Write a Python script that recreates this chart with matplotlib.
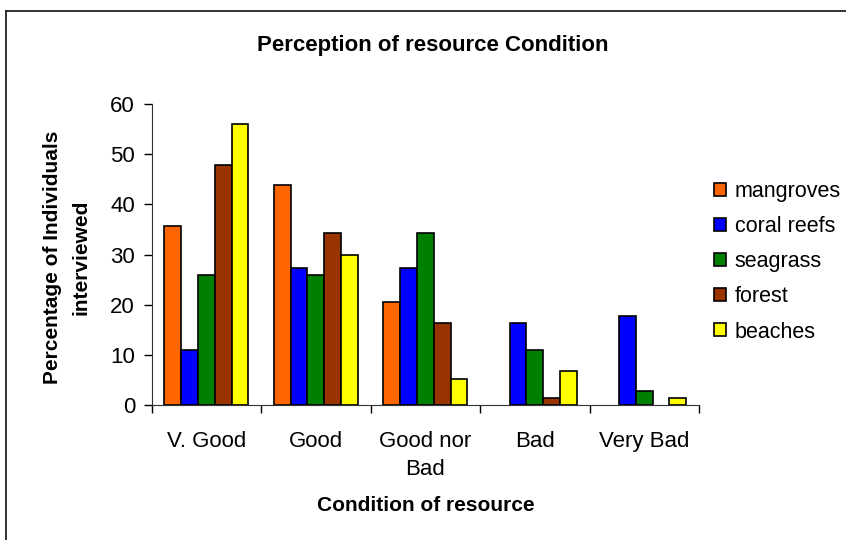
import matplotlib.pyplot as plt
import numpy as np
from matplotlib.lines import Line2D

plt.rcParams['font.family'] = ['Liberation Sans', 'DejaVu Sans']

# data
conditions = ["V. Good", "Good", "Good nor\nBad", "Bad", "Very Bad"]
resources = ["mangroves", "coral reefs", "seagrass", "forest", "beaches"]
mangroves = [35.7, 43.9, 20.6, 0, 0]
coral_reefs = [11.0, 27.4, 27.4, 16.4, 17.8]
seagrass = [26.0, 26.0, 34.3, 11.0, 2.8]
forest = [47.9, 34.3, 16.4, 1.4, 0]
beaches = [56.1, 30.0, 5.3, 6.8, 1.4]
colors = ["#FF6600", "#0000FF", "#008000", "#993300", "#FFFF00"]

series = [mangroves, coral_reefs, seagrass, forest, beaches]

fig = plt.figure(figsize=(8.46, 5.4), dpi=100)
ax = fig.add_axes([0.1793, 0.2494, 0.6469, 0.558])

x = np.arange(len(conditions))
w = 0.1534
for i, (vals, name, c) in enumerate(zip(series, resources, colors)):
    h = np.array(vals, dtype=float)
    h[h == 0] = np.nan  # zero bars are not drawn in the original
    ax.bar(x + (i - 2) * w, h, w, color=c, edgecolor="black",
           linewidth=1.2, label=name)

ax.set_xlim(-0.5, 4.5)
ax.set_ylim(0, 60)
ax.set_yticks(range(0, 61, 10))
ax.set_xticks(x)
ax.set_xticklabels(conditions, linespacing=1.45)
ax.set_xticks(np.arange(-0.5, 5, 1), minor=True)
ax.tick_params(axis="x", which="major", length=0, pad=18.5, labelsize=16)
ax.tick_params(axis="x", which="minor", length=6, width=1, direction="out")
ax.tick_params(axis="y", length=6, width=1, direction="out", pad=6, labelsize=16)

for s in ["top", "right"]:
    ax.spines[s].set_visible(False)
for s in ["left", "bottom"]:
    ax.spines[s].set_color("#333333")

ax.set_ylabel("Percentage of Individuals\ninterviewed", fontsize=15,
              fontweight="bold", linespacing=1.6, va="center")
ax.yaxis.set_label_coords(-0.155, 0.49)
ax.set_xlabel("Condition of resource", fontsize=15, fontweight="bold")
ax.xaxis.set_label_coords(0.5, -0.334)
ax.xaxis.label.set_va("center")

fig.text(433 / 846, 1 - 45 / 540, "Perception of resource Condition",
         ha="center", va="center", fontsize=16, fontweight="bold")

ax.legend(loc="upper left", bbox_to_anchor=(1.012, 0.774), frameon=False,
          fontsize=15.5, handlelength=0.55, handleheight=0.55,
          handletextpad=0.4, labelspacing=0.66, borderaxespad=0)

# outer chart border (left and top edges visible)
fig.add_artist(Line2D([6 / 846, 6 / 846], [0, 1 - 11 / 540],
                      transform=fig.transFigure, color="#222222", lw=1.3))
fig.add_artist(Line2D([6 / 846, 1], [1 - 11 / 540, 1 - 11 / 540],
                      transform=fig.transFigure, color="#222222", lw=1.3))

fig.savefig("out.png", dpi=100)
